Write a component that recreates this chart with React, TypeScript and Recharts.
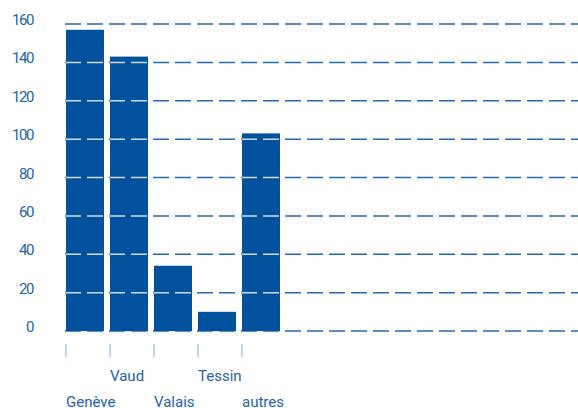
import { BarChart, Bar, XAxis, YAxis, CartesianGrid } from "recharts";

const CATEGORIES = ["Genève", "Vaud", "Valais", "Tessin", "autres"];
const VALUES = [157, 143, 34, 10, 103];
const Y_TICKS = [0, 20, 40, 60, 80, 100, 120, 140, 160];

const data = CATEGORIES.map((name, i) => ({ name, value: VALUES[i] }));

const BAR_COLOR = "#02519c";
const GRID_COLOR = "#2468b0";
const GRID_ON_BAR = "#cfdcec";
const TEXT_COLOR = "#2762a9";
const TICK_MARK = "#86abd2";
const FONT = "Roboto, 'Noto Sans', sans-serif";

const Y_AXIS_WIDTH = 63;
const BAR_WIDTH = 38;
const DASH = "16 6";
const DASH_PERIOD = 22;
const DASH_OFFSET = 20;

function GridLine(p: any) {
  return (
    <line
      key={p.key ?? `h-${p.index}`}
      x1={p.x1}
      y1={p.y1}
      x2={p.x2}
      y2={p.y2}
      stroke={GRID_COLOR}
      strokeWidth={1.5}
      strokeDasharray={DASH}
      strokeDashoffset={DASH_OFFSET}
      fill="none"
    />
  );
}

// bar with the grid lines showing through in a light tint
function GridBar(props: any) {
  const { x, y, width, height, payload } = props;
  const value = payload.value;
  const unit = height / value;
  const offset = (DASH_OFFSET + (x - Y_AXIS_WIDTH)) % DASH_PERIOD;
  const lines = Y_TICKS.filter((t) => t > 0 && t < value).map((t) => y + height - t * unit);
  return (
    <g>
      <rect x={x} y={y} width={width} height={height} fill={BAR_COLOR} />
      {lines.map((ly, i) => (
        <line
          key={i}
          x1={x}
          x2={x + width}
          y1={ly}
          y2={ly}
          stroke={GRID_ON_BAR}
          strokeWidth={1.5}
          strokeDasharray={DASH}
          strokeDashoffset={offset}
        />
      ))}
    </g>
  );
}

function YTick({ x, y, payload }: any) {
  return (
    <text
      x={x}
      y={y + 1}
      textAnchor="end"
      fill={TEXT_COLOR}
      fontSize={15}
      fontFamily={FONT}
      letterSpacing={-1.4}
    >
      {payload.value}
    </text>
  );
}

function XTick({ x, y, payload, index }: any) {
  const left = x - BAR_WIDTH / 2;
  const upper = index % 2 === 1;
  return (
    <g>
      <line x1={left} x2={left} y1={y + 13} y2={y + 26} stroke={TICK_MARK} strokeWidth={1} />
      <text
        x={left}
        y={upper ? y + 50 : y + 76}
        textAnchor="start"
        fill={TEXT_COLOR}
        fontSize={15}
        fontFamily={FONT}
      >
        {payload.value}
      </text>
    </g>
  );
}

export default function App() {
  return (
    <div style={{ position: "absolute", left: 0, top: 0, background: "#fff" }}>
      <BarChart
        width={578}
        height={408}
        data={data}
        margin={{ top: 24, right: 0, bottom: 0, left: 0 }}
        barCategoryGap={3}
      >
        <CartesianGrid vertical={false} horizontal={GridLine} />
        <XAxis
          dataKey="name"
          height={77}
          axisLine={false}
          tickLine={false}
          tickSize={0}
          tickMargin={0}
          padding={{ left: 0, right: 295 }}
          interval={0}
          tick={<XTick />}
        />
        <YAxis
          width={Y_AXIS_WIDTH}
          domain={[0, 160]}
          ticks={Y_TICKS}
          axisLine={false}
          tickLine={false}
          tickSize={0}
          tickMargin={30}
          tick={<YTick />}
        />
        <Bar dataKey="value" shape={GridBar} isAnimationActive={false} />
      </BarChart>
    </div>
  );
}
